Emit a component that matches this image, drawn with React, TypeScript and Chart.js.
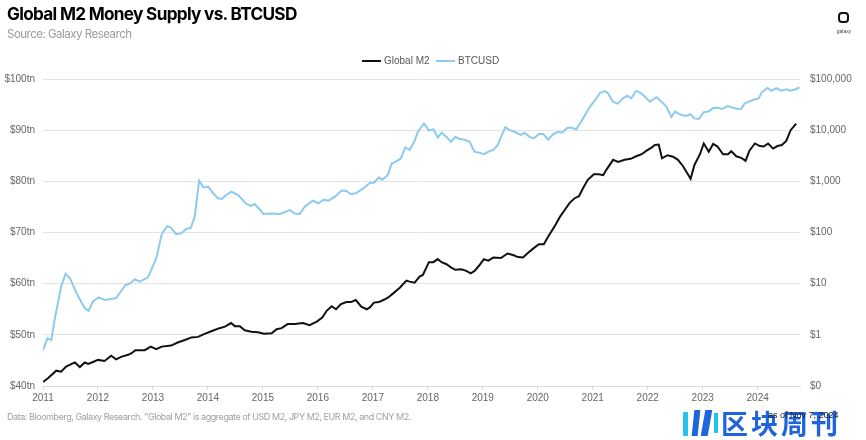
import React, { useEffect, useRef } from "react";
import { Chart, registerables } from "chart.js";

Chart.register(...registerables);

// Global M2 (USD trillions), dates as decimal years
const m2Dates = [
  2011.0, 2011.09, 2011.24, 2011.33, 2011.42, 2011.58, 2011.67, 2011.76, 2011.82, 2011.91,
  2012.0, 2012.12, 2012.24, 2012.33, 2012.42, 2012.55, 2012.61, 2012.68, 2012.85, 2012.96,
  2013.06, 2013.16, 2013.33, 2013.45, 2013.58, 2013.7, 2013.82, 2013.94, 2014.06, 2014.21,
  2014.31, 2014.42, 2014.49, 2014.58, 2014.67, 2014.79, 2014.91, 2015.02, 2015.16, 2015.25,
  2015.34, 2015.45, 2015.58, 2015.73, 2015.85, 2015.98, 2016.08, 2016.16, 2016.25, 2016.33,
  2016.42, 2016.52, 2016.6, 2016.69, 2016.79, 2016.89, 2016.95, 2017.02, 2017.11, 2017.21,
  2017.28, 2017.37, 2017.49, 2017.61, 2017.67, 2017.76, 2017.85, 2017.91, 2018.02, 2018.1,
  2018.18, 2018.25, 2018.34, 2018.42, 2018.5, 2018.61, 2018.7, 2018.78, 2018.85, 2018.93,
  2019.02, 2019.1, 2019.19, 2019.33, 2019.45, 2019.55, 2019.64, 2019.73, 2019.82, 2019.91,
  2020.02, 2020.11, 2020.19, 2020.3, 2020.4, 2020.49, 2020.58, 2020.67, 2020.75, 2020.82,
  2020.91, 2021.02, 2021.11, 2021.19, 2021.25, 2021.37, 2021.46, 2021.58, 2021.69, 2021.79,
  2021.89, 2021.98, 2022.07, 2022.13, 2022.2, 2022.26, 2022.36, 2022.46, 2022.55, 2022.64,
  2022.78, 2022.85, 2022.95, 2023.02, 2023.11, 2023.19, 2023.27, 2023.37, 2023.46, 2023.52,
  2023.61, 2023.7, 2023.78, 2023.85, 2023.95, 2024.04, 2024.11, 2024.19, 2024.28, 2024.36,
  2024.44, 2024.52, 2024.6, 2024.7,
];
const m2Values = [
  40.8, 41.5, 43.0, 42.8, 43.8, 44.6, 43.7, 44.6, 44.3, 44.7,
  45.1, 44.9, 45.9, 45.2, 45.7, 46.1, 46.4, 47.0, 47.0, 47.7,
  47.2, 47.7, 47.9, 48.5, 49.0, 49.5, 49.6, 50.2, 50.7, 51.3,
  51.6, 52.3, 51.7, 51.7, 50.9, 50.6, 50.5, 50.2, 50.3, 51.1,
  51.3, 52.1, 52.1, 52.3, 51.9, 52.6, 53.4, 54.7, 55.6, 55.0,
  56.0, 56.4, 56.4, 56.8, 55.5, 55.0, 55.4, 56.3, 56.4, 56.9,
  57.3, 58.1, 59.2, 60.6, 60.4, 60.2, 61.4, 61.7, 64.2, 64.2,
  64.8, 64.2, 63.8, 63.2, 62.7, 62.8, 62.5, 62.0, 62.5, 63.5,
  64.8, 64.5, 65.1, 65.0, 65.9, 65.6, 65.2, 65.1, 66.0, 66.8,
  67.7, 67.7, 69.2, 71.1, 73.0, 74.4, 75.8, 76.7, 77.1, 78.6,
  80.3, 81.4, 81.4, 81.2, 82.3, 84.2, 83.8, 84.2, 84.4, 84.9,
  85.3, 86.0, 86.6, 87.1, 87.2, 84.5, 85.1, 84.8, 84.2, 83.0,
  80.5, 83.2, 85.3, 87.4, 85.8, 87.3, 86.8, 85.3, 85.3, 85.9,
  84.9, 84.6, 84.0, 86.0, 87.4, 86.9, 86.8, 87.4, 86.4, 86.9,
  87.1, 87.9, 90.0, 91.3,
];

// BTCUSD (USD, log scale), dates as decimal years
const btcDates = [
  2011.0, 2011.08, 2011.15, 2011.21, 2011.33, 2011.41, 2011.49, 2011.64, 2011.76, 2011.83,
  2011.91, 2012.01, 2012.12, 2012.33, 2012.5, 2012.58, 2012.67, 2012.76, 2012.91, 2013.06,
  2013.16, 2013.26, 2013.33, 2013.42, 2013.51, 2013.61, 2013.69, 2013.76, 2013.84, 2013.92,
  2014.01, 2014.09, 2014.18, 2014.25, 2014.33, 2014.43, 2014.55, 2014.7, 2014.78, 2014.85,
  2014.95, 2015.01, 2015.16, 2015.31, 2015.49, 2015.58, 2015.67, 2015.76, 2015.91, 2016.01,
  2016.1, 2016.19, 2016.31, 2016.43, 2016.52, 2016.6, 2016.7, 2016.79, 2016.85, 2016.95,
  2017.02, 2017.11, 2017.17, 2017.27, 2017.34, 2017.41, 2017.51, 2017.59, 2017.67, 2017.76,
  2017.82, 2017.93, 2018.02, 2018.1, 2018.18, 2018.25, 2018.34, 2018.42, 2018.5, 2018.58,
  2018.67, 2018.76, 2018.85, 2018.95, 2019.02, 2019.1, 2019.19, 2019.27, 2019.34, 2019.41,
  2019.49, 2019.58, 2019.69, 2019.76, 2019.85, 2019.93, 2020.02, 2020.1, 2020.19, 2020.28,
  2020.37, 2020.44, 2020.54, 2020.61, 2020.7, 2020.79, 2020.85, 2020.95, 2021.04, 2021.13,
  2021.22, 2021.28, 2021.37, 2021.45, 2021.55, 2021.63, 2021.7, 2021.79, 2021.89, 2022.04,
  2022.16, 2022.25, 2022.34, 2022.43, 2022.5, 2022.6, 2022.7, 2022.78, 2022.85, 2022.93,
  2023.02, 2023.1, 2023.19, 2023.28, 2023.35, 2023.46, 2023.55, 2023.64, 2023.7, 2023.76,
  2023.89, 2024.02, 2024.08, 2024.18, 2024.25, 2024.34, 2024.43, 2024.52, 2024.6, 2024.69,
  2024.76,
];
const btcValues = [
  0.5, 0.85, 0.79, 1.95, 8.7, 15.5, 12.7, 5.6, 3.3, 2.96,
  4.5, 5.4, 4.8, 5.2, 9.4, 10, 12.2, 11, 13.3, 31,
  93, 133, 124, 93, 96, 117, 124, 204, 1030, 760,
  780, 590, 470, 450, 540, 630, 540, 360, 330, 360,
  275, 230, 235, 230, 275, 235, 230, 320, 420, 370,
  435, 420, 500, 660, 650, 560, 590, 690, 760, 940,
  940, 1200, 1070, 1320, 2200, 2400, 2800, 4600, 4100, 6200,
  9300, 13500, 9800, 10400, 7200, 8900, 7400, 5900, 7400, 6700,
  6500, 5900, 3800, 3600, 3400, 3800, 4100, 5100, 7700, 11400,
  10000, 9300, 8100, 8900, 7400, 6900, 8400, 8400, 6500, 8400,
  9300, 8900, 11200, 11200, 10400, 14800, 19000, 29000, 38000, 53000,
  58000, 52000, 36000, 33000, 42000, 47000, 42000, 59000, 52000, 36000,
  44000, 36000, 29000, 18000, 23000, 20000, 19000, 20500, 17000, 16500,
  22500, 23000, 27000, 27500, 26000, 29500, 27500, 26000, 26300, 33000,
  38000, 42000, 56000, 67000, 59000, 66000, 59000, 63000, 59000, 63000,
  69000,
];

const yearTicks = [2011, 2012, 2013, 2014, 2015, 2016, 2017, 2018, 2019, 2020, 2021, 2022, 2023, 2024];
const leftTickValues = [40, 50, 60, 70, 80, 90, 100];
const rightTickValues = [0.1, 1, 10, 100, 1000, 10000, 100000];
const rightTickLabels = ["$0", "$1", "$10", "$100", "$1,000", "$10,000", "$100,000"];

const seriesNames = ["Global M2", "BTCUSD"];
const seriesColors = ["#111111", "#8ccbef"];

const W = 866;
const H = 440;

export default function App() {
  const ref = useRef<HTMLCanvasElement | null>(null);

  useEffect(() => {
    if (!ref.current) return;
    const tickFont = { family: "'Liberation Sans', Arial, sans-serif", size: 10 };
    const chart = new Chart(ref.current, {
      type: "line",
      data: {
        datasets: [
          {
            label: seriesNames[0],
            data: m2Dates.map((x, i) => ({ x, y: m2Values[i] })),
            borderColor: seriesColors[0],
            backgroundColor: seriesColors[0],
            borderWidth: 2,
            pointRadius: 0,
            tension: 0,
            yAxisID: "y",
          },
          {
            label: seriesNames[1],
            data: btcDates.map((x, i) => ({ x, y: btcValues[i] })),
            borderColor: seriesColors[1],
            backgroundColor: seriesColors[1],
            borderWidth: 2,
            pointRadius: 0,
            tension: 0,
            yAxisID: "y2",
          },
        ],
      },
      options: {
        animation: false,
        responsive: false,
        devicePixelRatio: 1,
        layout: { padding: { top: 79, left: 0, right: 0, bottom: 0 } },
        plugins: {
          legend: { display: false },
          title: { display: false },
          tooltip: { enabled: false },
        },
        scales: {
          x: {
            type: "linear",
            min: 2011,
            max: 2024.77,
            afterBuildTicks: (scale: any) => {
              scale.ticks = yearTicks.map((v) => ({ value: v }));
            },
            afterFit: (scale: any) => {
              scale.height = 54;
            },
            ticks: {
              callback: (v: any) => String(v),
              color: "#666",
              font: tickFont,
              padding: 2,
              maxRotation: 0,
              autoSkip: false,
            },
            grid: {
              drawOnChartArea: false,
              drawTicks: true,
              tickLength: 4,
              color: "#d9d9d9",
            },
            border: { display: true, color: "#d9d9d9" },
          },
          y: {
            type: "linear",
            position: "left",
            min: 40,
            max: 100,
            afterBuildTicks: (scale: any) => {
              scale.ticks = leftTickValues.map((v) => ({ value: v }));
            },
            afterFit: (scale: any) => {
              scale.width = 43;
            },
            ticks: {
              callback: (v: any) => "$" + v + "tn",
              color: "#666",
              font: tickFont,
              padding: 8,
            },
            grid: { color: "#e3e3e3", drawTicks: false, lineWidth: 1 },
            border: { display: false },
          },
          y2: {
            type: "logarithmic",
            position: "right",
            min: 0.1,
            max: 100000,
            afterBuildTicks: (scale: any) => {
              scale.ticks = rightTickValues.map((v) => ({ value: v }));
            },
            afterFit: (scale: any) => {
              scale.width = 66;
            },
            ticks: {
              callback: (_v: any, i: number) => rightTickLabels[i],
              color: "#666",
              font: tickFont,
              padding: 10,
            },
            grid: { drawOnChartArea: false, drawTicks: false },
            border: { display: false },
          },
        },
      },
    });
    return () => chart.destroy();
  }, []);

  const abs = (s: React.CSSProperties): React.CSSProperties => ({ position: "absolute", ...s });

  return (
    <div
      style={{
        position: "fixed",
        left: 0,
        top: 0,
        width: W,
        height: H,
        background: "#fff",
        overflow: "hidden",
      }}
    >
      <canvas ref={ref} width={W} height={H} style={{ position: "absolute", left: 0, top: 0, width: W, height: H }} />
      <div
        style={abs({
          left: 7,
          top: 4,
          fontFamily: "Inter, 'Noto Sans', sans-serif",
          fontWeight: 700,
          fontSize: 17.2,
          letterSpacing: -0.7,
          color: "#000",
          whiteSpace: "nowrap",
          lineHeight: "20px",
        })}
      >
        Global M2 Money Supply vs. BTCUSD
      </div>
      <div
        style={abs({
          left: 7,
          top: 26,
          fontFamily: "Inter, 'Noto Sans', sans-serif",
          fontSize: 11.5,
          letterSpacing: -0.5,
          color: "#9b9b9b",
          whiteSpace: "nowrap",
          lineHeight: "16px",
        })}
      >
        Source: Galaxy Research
      </div>
      {/* logo */}
      <div
        style={abs({
          left: 838,
          top: 12,
          width: 7,
          height: 7,
          border: "2.5px solid #111",
          borderRadius: 4,
        })}
      />
      <div
        style={abs({
          left: 836,
          top: 28,
          width: 16,
          textAlign: "center",
          fontFamily: "'Liberation Sans', Arial, sans-serif",
          fontSize: 5,
          color: "#444",
          lineHeight: "6px",
        })}
      >
        galaxy
      </div>
      {/* legend */}
      {seriesNames.map((name, i) => (
        <div
          key={name}
          style={abs({
            left: i === 0 ? 362 : 436,
            top: 54,
            display: "flex",
            alignItems: "center",
            whiteSpace: "nowrap",
            fontFamily: "'Liberation Sans', Arial, sans-serif",
            fontSize: 10,
            color: "#555",
            lineHeight: "14px",
          })}
        >
          <span style={{ display: "inline-block", width: 19, height: 2, background: seriesColors[i], marginRight: 3 }} />
          {name}
        </div>
      ))}
      {/* footer */}
      <div
        style={abs({
          left: 7,
          top: 411,
          fontFamily: "Inter, 'Noto Sans', sans-serif",
          fontSize: 9,
          letterSpacing: -0.45,
          color: "#a0a0a0",
          whiteSpace: "nowrap",
          lineHeight: "12px",
        })}
      >
        Data: Bloomberg, Galaxy Research. "Global M2" is aggregate of USD M2, JPY M2, EUR M2, and CNY M2.
      </div>
      {/* watermark */}
      <div style={abs({ left: 683, top: 412, width: 5, height: 24, background: "#22c4ef", borderRadius: 1 })} />
      <div style={abs({ left: 693, top: 410, width: 6, height: 26, background: "#1f66dc", transform: "skewX(-6deg)" })} />
      <div style={abs({ left: 703, top: 410, width: 7, height: 26, background: "#1f66dc", transform: "skewX(-10deg)" })} />
      <div style={abs({ left: 714, top: 413, width: 4, height: 20, background: "#22c4ef" })} />
      <div
        style={abs({
          left: 721,
          top: 406,
          fontFamily: "'Noto Sans CJK SC', sans-serif",
          fontWeight: 700,
          fontSize: 27,
          letterSpacing: 3,
          color: "#1f63dd",
          whiteSpace: "nowrap",
          lineHeight: "34px",
        })}
      >
        区块周刊
      </div>
      <div
        style={abs({
          left: 768,
          top: 409,
          fontFamily: "'Liberation Sans', Arial, sans-serif",
          fontSize: 9,
          color: "#222",
          whiteSpace: "nowrap",
          lineHeight: "12px",
        })}
      >
        as of Nov 7, 2024
      </div>
    </div>
  );
}
